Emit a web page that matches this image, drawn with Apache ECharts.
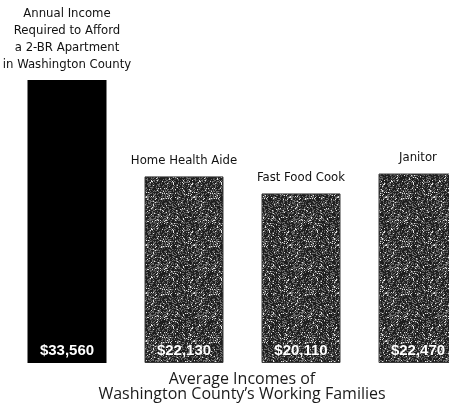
<!DOCTYPE html>
<html>
<head>
<meta charset="utf-8">
<script src="https://cdn.jsdelivr.net/npm/echarts@6/dist/echarts.min.js"></script>
<style>
  html, body { margin: 0; padding: 0; background: #fff; }
  #chart { width: 449px; height: 417px; }
</style>
</head>
<body>
<div id="chart"></div>
<script>
// Categories and incomes (US dollars)
const categories = [
  'Annual Income\nRequired to Afford\na 2-BR Apartment\nin Washington County',
  'Home Health Aide',
  'Fast Food Cook',
  'Janitor'
];
const incomes = [33560, 22130, 20110, 22470];
const valueLabels = ['$33,560', '$22,130', '$20,110', '$22,470'];
const titleLines = ['Average Incomes of', 'Washington County\u2019s Working Families'];

// Speckled grey fill used for the job bars (deterministic hash noise tile)
function speckleTile() {
  const size = 48;
  const c = document.createElement('canvas');
  c.width = size; c.height = size;
  const ctx = c.getContext('2d');
  const img = ctx.createImageData(size, size);
  for (let y = 0; y < size; y++) {
    for (let x = 0; x < size; x++) {
      let h = (x * 374761393 + y * 668265263) | 0;
      h = Math.imul(h ^ (h >>> 13), 1274126177);
      h = (h ^ (h >>> 16)) >>> 0;
      const t = h / 4294967296;
      let v;
      if (t < 0.07) v = 225;
      else if (t < 0.30) v = 110;
      else if (t < 0.50) v = 65;
      else v = 30;
      const i = (y * size + x) * 4;
      img.data[i] = img.data[i + 1] = img.data[i + 2] = v;
      img.data[i + 3] = 255;
    }
  }
  ctx.putImageData(img, 0, 0);
  return c;
}
const speckle = { image: speckleTile(), repeat: 'repeat' };

const chart = echarts.init(document.getElementById('chart'), null, { renderer: 'canvas' });

chart.setOption({
  animation: false,
  backgroundColor: '#ffffff',
  title: {
    text: titleLines.join('\n'),
    left: 237,
    top: 367,
    textAlign: 'center',
    textStyle: {
      fontFamily: 'Open Sans',
      fontWeight: 'normal',
      fontSize: 16,
      lineHeight: 15,
      color: '#1a1a1a'
    }
  },
  grid: {
    left: 8.5,
    width: 468,
    top: 25.7,
    bottom: 54,
    outerBoundsMode: 'none',
    containLabel: false
  },
  xAxis: {
    type: 'category',
    data: categories,
    axisLine: { show: false },
    axisTick: { show: false },
    axisLabel: { show: false }
  },
  yAxis: {
    type: 'value',
    min: 0,
    max: 40000,
    show: false,
    splitLine: { show: false }
  },
  series: [
    {
      type: 'bar',
      name: 'income',
      barWidth: 79,
      data: incomes.map((v, i) => ({
        value: v,
        itemStyle: i === 0
          ? { color: '#000000' }
          : { color: speckle, borderColor: '#3a3a3a', borderWidth: 1 }
      })),
      label: {
        show: true,
        position: 'insideBottom',
        distance: 5,
        formatter: p => valueLabels[p.dataIndex],
        fontFamily: 'Liberation Sans',
        fontWeight: 'bold',
        fontSize: 15,
        color: '#ffffff',
        textBorderColor: 'rgba(0,0,0,0.45)',
        textBorderWidth: 1
      }
    },
    {
      type: 'bar',
      name: 'names',
      barWidth: 79,
      barGap: '-100%',
      silent: true,
      data: incomes,
      itemStyle: { color: 'rgba(0,0,0,0)' },
      label: {
        show: true,
        position: 'top',
        distance: 7,
        formatter: p => p.name,
        fontFamily: '"DejaVu Sans Condensed", sans-serif',
        fontSize: 13,
        lineHeight: 17,
        color: '#111111'
      }
    }
  ]
});
</script>
</body>
</html>
